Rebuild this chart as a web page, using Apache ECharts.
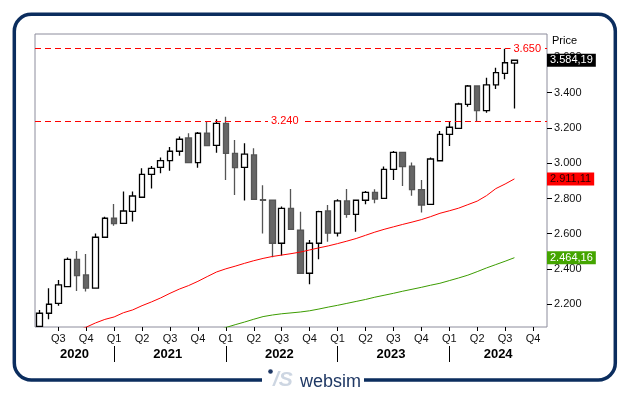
<!DOCTYPE html>
<html><head><meta charset="utf-8">
<script src="https://cdn.jsdelivr.net/npm/echarts@6/dist/echarts.min.js"></script>
<style>html,body{margin:0;padding:0;background:#fff}#c{width:630px;height:394px}</style>
</head><body><div id="c"></div>
<script>
const months = ['2020-05','2020-06','2020-07','2020-08','2020-09','2020-10','2020-11','2020-12',
'2021-01','2021-02','2021-03','2021-04','2021-05','2021-06','2021-07','2021-08','2021-09','2021-10','2021-11','2021-12',
'2022-01','2022-02','2022-03','2022-04','2022-05','2022-06','2022-07','2022-08','2022-09','2022-10','2022-11','2022-12',
'2023-01','2023-02','2023-03','2023-04','2023-05','2023-06','2023-07','2023-08','2023-09','2023-10','2023-11','2023-12',
'2024-01','2024-02','2024-03','2024-04','2024-05','2024-06','2024-07','2024-08','2024-09','2024-10','2024-11'];

const open  = [2075,2149,2205,2300,2455,2366,2291,2580,2688,2659,2727,2807,2937,2977,3015,3068,3143,3003,3170,3101,
               3226,3056,2977,3047,2793,2791,2546,2744,2621,2376,2546,2729,2603,2786,2710,2790,2835,2801,2965,3062,
               2984,2850,2767,3014,3164,3198,3334,3438,3298,3444,3510,3568];
const close = [2149,2200,2310,2455,2362,2291,2580,2688,2657,2729,2814,2937,2971,3015,3068,3136,3003,3170,3100,3226,
               3056,2975,3052,2795,2790,2546,2744,2625,2376,2546,2725,2603,2786,2710,2790,2835,2797,2965,3062,2981,
               2850,2763,3024,3164,3204,3336,3438,3298,3444,3514,3570,3584.19];
const low   = [2072,2115,2192,2298,2275,2272,2289,2578,2646,2657,2669,2805,2856,2943,2958,3043,3002,2975,3098,3060,
               2905,2820,2788,2794,2602,2466,2476,2624,2375,2313,2455,2555,2584,2691,2612,2767,2773,2800,2905,2871,
               2815,2720,2766,3013,3098,3196,3321,3240,3287,3421,3476,3311];
const high  = [2168,2291,2338,2465,2502,2485,2602,2697,2769,2839,2839,2971,2984,3032,3092,3151,3170,3177,3236,3249,
               3264,3132,3113,3085,2875,2792,2754,2854,2725,2565,2731,2763,2795,2854,2791,2843,2852,2982,3069,3063,
               3004,2905,3032,3183,3240,3343,3444,3439,3485,3542,3650,3586];

const maRed = [null,null,null,null,2050,2070,2094,2114,2128,2152,2168,2192,2213,2236,2262,2286,2306,2330,2357,2383,
               2401,2416,2432,2447,2460,2471,2479,2487,2496,2508,2520,2531,2544,2558,2573,2591,2609,2625,2639,2653,
               2666,2680,2697,2716,2730,2745,2765,2785,2816,2856,2882,2911.11];
const maGreen = [null,null,null,null,null,null,null,null,null,null,null,null,null,null,null,null,null,null,null,2050,
               2068,2084,2099,2115,2130,2139,2146,2151,2156,2163,2173,2184,2194,2205,2216,2227,2240,2251,2262,2274,
               2285,2296,2308,2319,2334,2349,2365,2385,2406,2425,2444,2464.16];

const refLevels = [3650, 3240];

const FONT = 'Liberation Sans, Arial, sans-serif';

function euro(v, dec) {
  const s = Number(v).toFixed(dec);
  const parts = s.split('.');
  const ip = parts[0].replace(/\B(?=(\d{3})+(?!\d))/g, '.');
  return parts[1] ? ip + ',' + parts[1] : ip;
}
const monthNum = m => parseInt(m.slice(5), 10);
const isQuarterStart = i => (monthNum(months[i]) - 1) % 3 === 0;

// year separators (January) and year label centres derived from categories
const yearStarts = [];
const yearGroups = {};
months.forEach((m, i) => {
  if (monthNum(m) === 1 && i > 0) yearStarts.push(i);
  const y = m.slice(0, 4);
  (yearGroups[y] = yearGroups[y] || []).push(i);
});
const yearCenters = Object.keys(yearGroups).map(y => {
  const g = yearGroups[y];
  return (g[0] + g[g.length - 1]) / 2 + 0.25;
});

const candles = open.map((o, i) => [o, close[i], low[i], high[i]]);
const lastClose = close[close.length - 1];
const lastRed = maRed[maRed.length - 1];
const lastGreen = maGreen[maGreen.length - 1];

const chart = echarts.init(document.getElementById('c'), null, {renderer: 'canvas'});

const priceTag = (val, bg, fg) => ({
  yAxis: val,
  lineStyle: {color: 'transparent', width: 1},
  label: {
    show: true, position: 'end', distance: 0,
    formatter: () => euro(val, 2),
    backgroundColor: bg, color: fg, padding: [1, 3, 0, 3],
    fontSize: 11, fontFamily: FONT, lineHeight: 12
  }
});

chart.setOption({
  animation: false,
  textStyle: {fontFamily: FONT},
  title: {
    text: 'Price', left: 552, top: 35, padding: 0,
    textStyle: {fontSize: 11, fontWeight: 'normal', color: '#000', fontFamily: FONT}
  },
  grid: {
    left: 35, right: 83, top: 34, bottom: 67,
    show: true, borderColor: '#8c8c9c', borderWidth: 1, backgroundColor: 'transparent'
  },
  xAxis: [{
    type: 'category', data: months, boundaryGap: true,
    axisLine: {show: false, onZero: false},
    axisTick: {show: true, alignWithLabel: true, interval: i => isQuarterStart(i), length: 4,
               lineStyle: {color: '#000'}},
    axisLabel: {interval: i => isQuarterStart(i),
                formatter: v => 'Q' + (Math.floor((monthNum(v) - 1) / 3) + 1),
                fontSize: 11, color: '#111', margin: 6, fontFamily: FONT},
    splitLine: {show: false}
  }, {
    type: 'value', min: -0.5, max: months.length - 0.5, position: 'bottom', offset: 19,
    axisLine: {show: false, onZero: false}, splitLine: {show: false},
    axisTick: {show: true, customValues: yearStarts, length: 16, lineStyle: {color: '#000', width: 1}},
    axisLabel: {customValues: yearCenters, formatter: v => months[Math.round(v)].slice(0, 4),
                fontSize: 13, fontWeight: 'bold', color: '#000', margin: 2, fontFamily: FONT}
  }],
  yAxis: {
    type: 'value', position: 'right', min: 2071, max: 3733, splitNumber: 8,
    axisLine: {show: false, onZero: false}, splitLine: {show: false},
    axisTick: {show: true, length: 5, lineStyle: {color: '#000'}},
    axisLabel: {showMinLabel: false, showMaxLabel: false, formatter: v => euro(v, 0), fontSize: 11,
                color: '#111', margin: 7, fontFamily: FONT}
  },
  series: [{
    type: 'candlestick', name: 'Price', data: candles, barWidth: 6, clip: true,
    itemStyle: {color: '#ffffff', color0: '#666666', borderColor: '#000000', borderColor0: '#555555', borderWidth: 1.3},
    markLine: {
      silent: true, symbol: 'none', animation: false,
      data: [
        {yAxis: refLevels[0], lineStyle: {color: '#ff0000', type: [6, 4], width: 1},
         label: {show: true, position: 'insideEnd', distance: 3, formatter: () => euro(refLevels[0], 0),
                 color: '#ff0000', backgroundColor: '#ffffff', padding: [0, 3], fontSize: 11, fontFamily: FONT}},
        {yAxis: refLevels[1], lineStyle: {color: '#ff0000', type: [6, 4], width: 1},
         label: {show: true, position: 'insideStart', distance: 233, formatter: () => euro(refLevels[1], 0),
                 color: '#ff0000', backgroundColor: '#ffffff', padding: [0, 3], fontSize: 11, fontFamily: FONT}},
        priceTag(lastClose, '#000000', '#ffffff')
      ]
    }
  }, {
    type: 'line', name: 'MA red', data: maRed, showSymbol: false, symbol: 'none', silent: true,
    lineStyle: {color: '#ff0000', width: 1}, itemStyle: {color: '#ff0000'},
    markLine: {silent: true, symbol: 'none', animation: false,
               data: [priceTag(lastRed, '#ff0000', '#2a0000')]}
  }, {
    type: 'line', name: 'MA green', data: maGreen, showSymbol: false, symbol: 'none', silent: true,
    lineStyle: {color: '#3c9c00', width: 1}, itemStyle: {color: '#3c9c00'},
    markLine: {silent: true, symbol: 'none', animation: false,
               data: [priceTag(lastGreen, '#44a500', '#ffffff')]}
  }],
  graphic: [
    {type: 'rect', silent: true, z: 100,
     shape: {x: 14.3, y: 14.3, width: 601, height: 365.7, r: 17},
     style: {fill: 'none', stroke: '#0b2d5e', lineWidth: 3.5}},
    {type: 'rect', silent: true, z: 101,
     shape: {x: 262, y: 372, width: 102, height: 16},
     style: {fill: '#ffffff'}},
    {type: 'circle', silent: true, z: 102,
     shape: {cx: 270.5, cy: 371.5, r: 2.3}, style: {fill: '#1f3864'}},
    {type: 'text', silent: true, z: 102,
     style: {text: '/S', x: 273, y: 380, fill: '#cdd6e2', font: 'italic bold 21px ' + FONT,
             verticalAlign: 'middle', align: 'left'}},
    {type: 'text', silent: true, z: 102,
     style: {text: 'websim', x: 300, y: 382, fill: '#1f3864', font: '18px ' + FONT,
             verticalAlign: 'middle', align: 'left'}}
  ]
});
</script>
</body></html>
